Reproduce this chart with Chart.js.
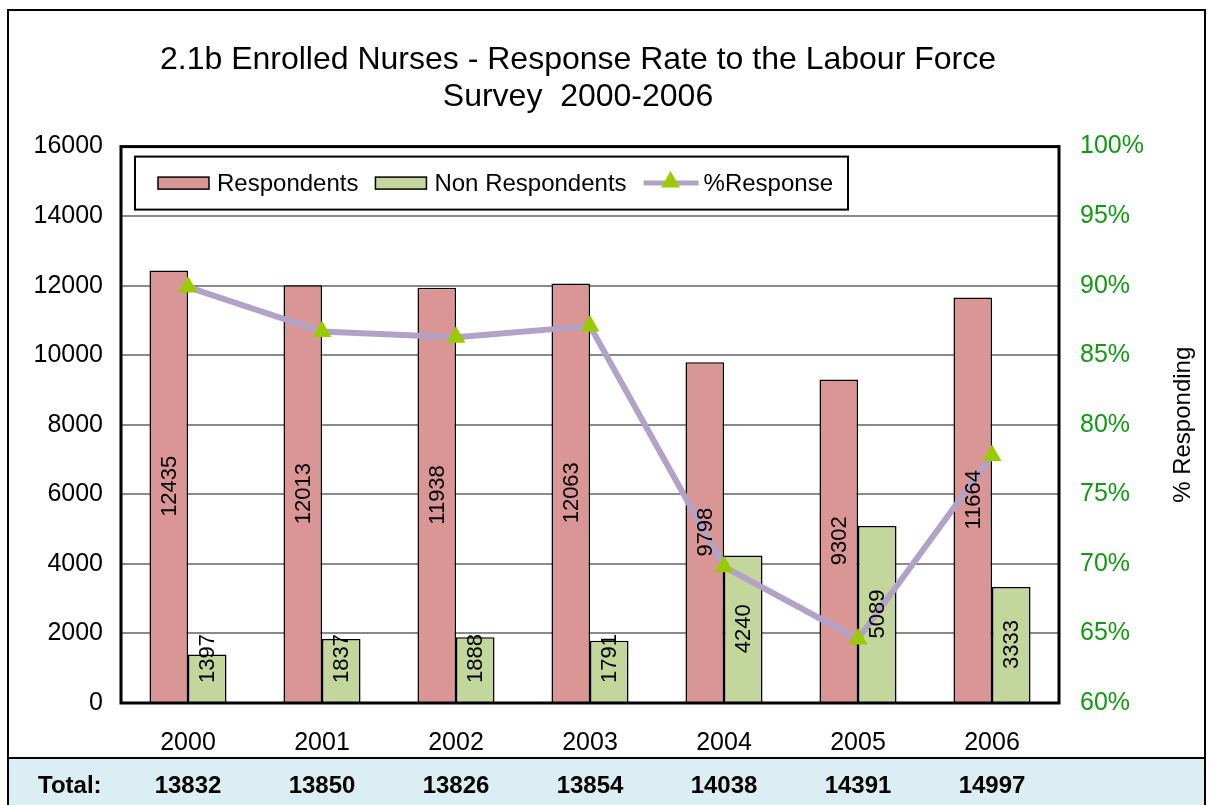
<!DOCTYPE html>
<html>
<head>
<meta charset="utf-8">
<title>2.1b Enrolled Nurses - Response Rate</title>
<script src="https://cdn.jsdelivr.net/npm/chart.js@4/dist/chart.umd.min.js"></script>
<style>
html, body { margin: 0; padding: 0; background: #fff; }
#wrap { width: 1211px; height: 805px; }
</style>
</head>
<body>
<div id="wrap"><canvas id="chart_nurses" width="1211" height="805"></canvas></div>
<script>
// ----------------------------------------------------------------------
//  data
// ----------------------------------------------------------------------
var years = ['2000', '2001', '2002', '2003', '2004', '2005', '2006'];
var respondents = [12435, 12013, 11938, 12063, 9798, 9302, 11664];
var nonRespondents = [1397, 1837, 1888, 1791, 4240, 5089, 3333];
var pctResponse = [89.9, 86.7, 86.3, 87.1, 69.8, 64.6, 77.8];
var totals = [13832, 13850, 13826, 13854, 14038, 14391, 14997];
var seriesNames = ['Respondents', 'Non Respondents', '%Response'];

var FONT = '"Liberation Sans", Arial, sans-serif';
var PINK = '#D99694', GREEN = '#C3D69B', LILAC = '#B3A2C7', LIME = '#99CC00';
var AXIS_GREEN = '#119911';

Chart.defaults.font.family = FONT;
Chart.defaults.color = '#000';

function triangle(c, x, y, r){
	c.beginPath();
	c.moveTo(x, y - r);
	c.lineTo(x + r * 0.866, y + r * 0.5);
	c.lineTo(x - r * 0.866, y + r * 0.5);
	c.closePath();
	c.fill();
}

// ----------------------------------------------------------------------
//  frame, labels, legend, totals row
// ----------------------------------------------------------------------
var extras = {
	id: 'extras',
	beforeDraw: function(chart){
		var c = chart.ctx;
		c.save();
		c.fillStyle = '#fff';
		c.fillRect(0, 0, chart.width, chart.height);
		c.fillStyle = '#DAEEF3';
		c.fillRect(8, 758, 1197, 47);
		c.restore();
	},
	afterDatasetsDraw: function(chart){
		var c = chart.ctx, ca = chart.chartArea;
		c.save();
		// value labels inside the bars (datasets 1 and 2 are the bars)
		c.font = '22px ' + FONT;
		c.fillStyle = '#000';
		c.textAlign = 'center';
		c.textBaseline = 'middle';
		[1, 2].forEach(function(di){
			var meta = chart.getDatasetMeta(di);
			var vals = chart.data.datasets[di].data;
			meta.data.forEach(function(bar, j){
				var p = bar.getProps(['x', 'y', 'base'], true);
				var txt = String(vals[j]);
				var half = c.measureText(txt).width / 2;
				var cy = Math.min((p.y + p.base) / 2, p.base - 19 - half);
				c.save();
				c.translate(p.x + 1, cy);
				c.rotate(-Math.PI / 2);
				c.fillText(txt, 0, 0);
				c.restore();
			});
		});
		// plot border
		c.lineWidth = 3;
		c.strokeStyle = '#000';
		c.strokeRect(ca.left, ca.top, ca.right - ca.left, ca.bottom - ca.top);
		c.restore();
	},
	afterDraw: function(chart){
		var c = chart.ctx, ca = chart.chartArea;
		c.save();

		// legend box
		var lx = ca.left + 14, ly = ca.top + 10, lw = 713, lh = 53;
		var cy = ly + lh / 2;
		c.fillStyle = '#fff';
		c.fillRect(lx, ly, lw, lh);
		c.lineWidth = 2;
		c.strokeStyle = '#000';
		c.strokeRect(lx, ly, lw, lh);
		c.font = '24px ' + FONT;
		c.textBaseline = 'middle';
		c.textAlign = 'left';
		var x = lx + 23;
		[PINK, GREEN].forEach(function(col, i){
			c.fillStyle = col;
			c.fillRect(x, cy - 6, 51, 12);
			c.lineWidth = 1.5;
			c.strokeRect(x, cy - 6, 51, 12);
			x += 59;
			c.fillStyle = '#000';
			c.fillText(seriesNames[i], x, cy + 1);
			x += c.measureText(seriesNames[i]).width + 17;
		});
		c.strokeStyle = LILAC;
		c.lineWidth = 5;
		c.beginPath();
		c.moveTo(x, cy);
		c.lineTo(x + 55, cy);
		c.stroke();
		c.fillStyle = LIME;
		triangle(c, x + 27, cy - 1, 11);
		c.fillStyle = '#000';
		c.fillText(seriesNames[2], x + 60, cy + 1);

		// right axis title
		c.save();
		c.translate(1183, (ca.top + ca.bottom) / 2);
		c.rotate(-Math.PI / 2);
		c.textAlign = 'center';
		c.font = '24px ' + FONT;
		c.fillText('% Responding', 0, 0);
		c.restore();

		// outer frame and totals row
		c.strokeStyle = '#000';
		c.lineWidth = 2;
		c.strokeRect(8, 10, 1197, 800);
		c.beginPath();
		c.moveTo(8, 758);
		c.lineTo(1205, 758);
		c.stroke();

		c.font = 'bold 24px ' + FONT;
		c.textAlign = 'left';
		c.fillText('Total:', 38, 786);
		c.textAlign = 'center';
		var xs = chart.scales.x;
		totals.forEach(function(t, i){
			c.fillText(String(t), xs.getPixelForTick(i), 786);
		});
		c.restore();
	}
};

// ----------------------------------------------------------------------
//  chart
// ----------------------------------------------------------------------
var drawGraph = function(){
	var ctx = document.getElementById('chart_nurses').getContext('2d');
	var config = {
		type: 'bar',
		data: {
			labels: years,
			datasets: [
				{
					type: 'line',
					label: seriesNames[2],
					data: pctResponse,
					yAxisID: 'y1',
					borderColor: LILAC,
					borderWidth: 6,
					pointStyle: 'triangle',
					pointRadius: 11,
					pointBorderWidth: 0,
					pointBackgroundColor: LIME,
					order: 0
				},
				{
					label: seriesNames[0],
					data: respondents,
					yAxisID: 'y',
					backgroundColor: PINK,
					borderColor: '#000',
					borderWidth: 1.5,
					categoryPercentage: 0.575,
					barPercentage: 1,
					order: 1
				},
				{
					label: seriesNames[1],
					data: nonRespondents,
					yAxisID: 'y',
					backgroundColor: GREEN,
					borderColor: '#000',
					borderWidth: 1.5,
					categoryPercentage: 0.575,
					barPercentage: 1,
					order: 1
				}
			]
		},
		options: {
			responsive: false,
			animation: false,
			layout: { padding: { left: 8, right: 63, top: 0, bottom: 0 } },
			plugins: {
				legend: { display: false },
				tooltip: { enabled: false },
				title: {
					display: true,
					text: ['2.1b Enrolled Nurses - Response Rate to the Labour Force', 'Survey  2000-2006'],
					color: '#000',
					font: { size: 32, weight: 'normal', lineHeight: 1.15 },
					padding: { top: 42, bottom: 31 }
				}
			},
			scales: {
				x: {
					grid: { display: false, drawTicks: false },
					border: { display: false },
					ticks: { font: { size: 25 }, padding: 25, color: '#000' },
					afterFit: function(s){ s.height = 102; }
				},
				y: {
					position: 'left',
					min: 0,
					max: 16000,
					grid: { color: '#8a8a8a', lineWidth: 2, drawTicks: false },
					border: { display: false },
					ticks: {
						stepSize: 2000,
						padding: 18,
						color: '#000',
						font: { size: 25 },
						callback: function(v){ return String(v); }
					},
					afterFit: function(s){ s.width = 113; }
				},
				y1: {
					position: 'right',
					min: 60,
					max: 100,
					grid: { display: false, drawTicks: false },
					border: { display: false },
					ticks: {
						stepSize: 5,
						padding: 21,
						color: AXIS_GREEN,
						font: { size: 25 },
						callback: function(v){ return v + '%'; }
					},
					afterFit: function(s){ s.width = 89; }
				}
			}
		},
		plugins: [extras]
	};
	new Chart(ctx, config);
};
window.onload = function(){
	drawGraph();
};
</script>
</body>
</html>
